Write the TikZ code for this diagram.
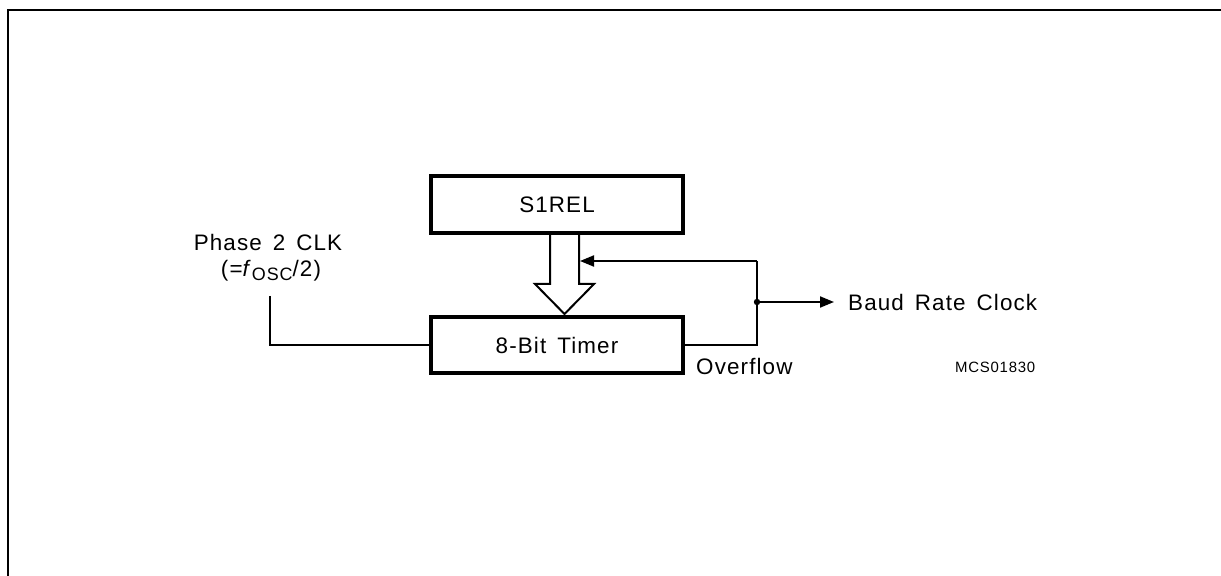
\documentclass[tikz,border=0pt]{standalone}
\usepackage{fontspec}
\setmainfont{Liberation Sans}[LetterSpace=5,WordSpace=1.5]
\usetikzlibrary{arrows.meta}
\begin{document}
\begin{tikzpicture}[x=1bp,y=-1bp,
  blockbox/.style={draw,line width=4bp,minimum width=252bp,inner sep=0pt,font=\fontsize{22.5}{24}\selectfont},
  wire/.style={line width=2bp},
  lbl/.style={inner sep=0pt,font=\fontsize{22.5}{24}\selectfont},
  tip/.style={-{Triangle[length=14bp,width=11bp]}}]
\useasboundingbox (0,0) rectangle (1221,576);
% frame
\draw[line width=2.5bp] (8,576) -- (8,10) -- (1221,10);
% blocks
\node[blockbox,minimum height=57bp] (s1rel) at (557,204.5) {S1REL};
\node[blockbox,minimum height=56bp] (timer) at (557,345) {8-Bit Timer};
% hollow arrow
\draw[line width=2bp,line join=miter]
  (550,235) -- (550,284) -- (535,284) -- (564.5,314) -- (594,284) -- (579,284) -- (579,235);
% input
\node[lbl] (ph) at (268,242) {Phase 2 CLK};
\node[lbl] (fo) at (271,271) {(=\textit{f}\raisebox{-0.35ex}{\fontsize{18}{18}\selectfont OSC}/2)};
\coordinate (inc) at (270,296);
\draw[wire] (inc) |- (timer.west);
% output / feedback
\coordinate (corner) at (757,261);
\coordinate (junc) at (757,302);
\coordinate (fbend) at (580,261);
\draw[wire] (timer.east) -| (corner);
\draw[wire,tip] (corner) -- (fbend);
\fill (junc) circle (3.2bp);
\node[lbl,anchor=west] (baud) at (848,302) {Baud Rate Clock};
\draw[wire,tip,shorten >=14bp] (junc) -- (baud.west);
\node[lbl,anchor=west] (ovf) at (696,366) {Overflow};
\node[inner sep=0pt,anchor=west,font=\fontsize{15}{16}\selectfont] (mcs) at (955,367) {MCS01830};
\end{tikzpicture}
\end{document}
